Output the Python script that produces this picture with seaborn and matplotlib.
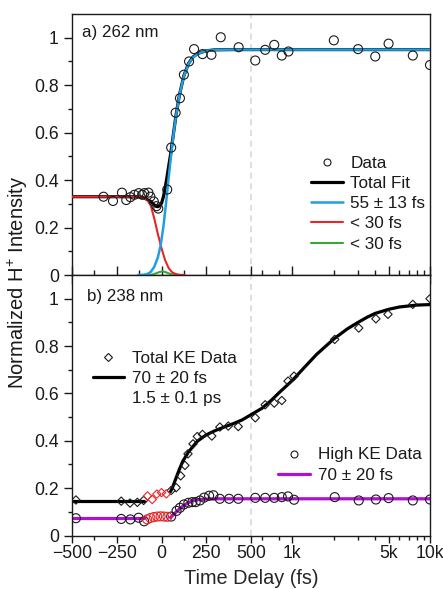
import numpy as np
import matplotlib
matplotlib.use("Agg")
import matplotlib.pyplot as plt
import seaborn as sns
from matplotlib.ticker import FixedLocator, FixedFormatter
from matplotlib.lines import Line2D

# ---------------- panel a) 262 nm ----------------
a_time = [-324, -271, -221, -197, -174, -152, -127, -108, -96, -73, -62, -43, -28, -18,
          32, 54, 79, 103, 125, 154, 182, 229, 279, 331, 431,
          537, 634, 738, 837, 936, 2000, 3000, 4000, 5000, 7500, 10000]
a_signal = [0.330, 0.312, 0.347, 0.316, 0.328, 0.338, 0.345, 0.338, 0.345, 0.347, 0.330, 0.310, 0.290, 0.280,
            0.360, 0.537, 0.684, 0.745, 0.844, 0.900, 0.952, 0.931, 0.928, 1.002, 0.960,
            0.904, 0.949, 0.970, 0.925, 0.942, 0.989, 0.952, 0.921, 0.975, 0.925, 0.885]

a_total_t = [-500, -150, -120, -100, -80, -60, -50, -40, -30, -20, -10, 0, 10, 20, 30, 40, 50, 60,
             70, 80, 100, 125, 150, 175, 200, 250, 300, 400, 500, 10000]
a_total = [0.330, 0.330, 0.329, 0.326, 0.318, 0.310, 0.303, 0.295, 0.289, 0.288, 0.292, 0.302, 0.328,
           0.365, 0.410, 0.458, 0.505, 0.558, 0.613, 0.668, 0.758, 0.840, 0.890, 0.918, 0.933, 0.945,
           0.949, 0.950, 0.950, 0.950]

a_rise_t = [-130, -100, -80, -60, -40, -20, -5, 10, 25, 40, 50, 60, 70, 80, 100, 125, 150, 175,
            200, 250, 300, 400, 10000]
a_rise = [0.0, 0.001, 0.004, 0.013, 0.035, 0.075, 0.125, 0.200, 0.300, 0.410, 0.480, 0.550, 0.610,
          0.665, 0.757, 0.838, 0.888, 0.916, 0.932, 0.945, 0.949, 0.950, 0.950]

a_decay_t = [-500, -150, -120, -100, -80, -60, -40, -20, 0, 20, 40, 60, 80, 100, 130]
a_decay = [0.330, 0.330, 0.329, 0.326, 0.316, 0.293, 0.237, 0.172, 0.113, 0.063, 0.029, 0.011,
           0.004, 0.001, 0.0]

a_coh_t = [-70, -50, -30, -10, 5, 20, 40, 60, 80]
a_coh = [0.0, 0.002, 0.007, 0.013, 0.015, 0.013, 0.007, 0.002, 0.0]

# ---------------- panel b) 238 nm ----------------
b_total_t = [-478, -225, -176, -135, -100, 54, 82, 107, 131, 148, 176, 200, 229, 281, 326, 373, 429,
             537, 634, 738, 837, 929, 1028, 2030, 3035, 4045, 4950, 7500, 10000]
b_total = [0.150, 0.145, 0.137, 0.140, 0.148, 0.190, 0.202, 0.252, 0.296, 0.345, 0.387, 0.418, 0.427,
           0.420, 0.458, 0.462, 0.460, 0.497, 0.552, 0.559, 0.570, 0.652, 0.673, 0.828, 0.876, 0.915,
           0.934, 0.976, 1.000]
b_total_excl_t = [-78, -52, -26, 0, 27]
b_total_excl = [0.167, 0.152, 0.175, 0.181, 0.176]

b_high_t = [-478, -225, -174, -128, -97, 54, 84, 103, 125, 150, 172, 191, 215, 238, 266, 290, 326,
            378, 429, 537, 634, 738, 837, 929, 1028, 2030, 3035, 4045, 5000, 7500, 10000]
b_high = [0.073, 0.070, 0.068, 0.075, 0.060, 0.080, 0.104, 0.117, 0.131, 0.138, 0.141, 0.141, 0.148,
          0.160, 0.168, 0.170, 0.155, 0.155, 0.155, 0.159, 0.159, 0.159, 0.162, 0.165, 0.151, 0.162,
          0.148, 0.152, 0.158, 0.148, 0.152]
b_high_excl_t = [-80, -62, -43, -24, -5, 14, 33]
b_high_excl = [0.068, 0.074, 0.078, 0.080, 0.081, 0.080, 0.079]

b_total_pre_t = [-500, -100]
b_total_pre = [0.145, 0.145]
b_total_fit_t = [50, 60, 80, 100, 120, 150, 200, 250, 300, 350, 400, 450, 500, 600, 700, 800, 1000,
                 1200, 1500, 2000, 2500, 3000, 3500, 4000, 5000, 6000, 8000, 10000]
b_total_fit = [0.185, 0.200, 0.240, 0.280, 0.315, 0.352, 0.398, 0.425, 0.443, 0.458, 0.472, 0.488,
               0.510, 0.537, 0.570, 0.603, 0.655, 0.705, 0.765, 0.830, 0.872, 0.900, 0.922, 0.938,
               0.955, 0.965, 0.973, 0.975]

b_high_pre_t = [-500, -100]
b_high_pre = [0.072, 0.072]
b_high_fit_t = [50, 60, 80, 100, 125, 150, 175, 200, 250, 300, 10000]
b_high_fit = [0.076, 0.083, 0.098, 0.112, 0.127, 0.139, 0.147, 0.151, 0.154, 0.155, 0.155]

# ---------------- axis ticks ----------------
x_major = [-500, -250, 0, 250, 500, 1000, 5000, 10000]
x_major_labels = ["\u2212500", "\u2212250", "0", "250", "500", "1k", "5k", "10k"]
x_minor = [-375, -125, 125, 375, 600, 800, 2000, 3000, 4000, 6000, 7000, 8000, 9000]
y_major = [0, 0.2, 0.4, 0.6, 0.8, 1.0]
y_major_labels = ["0", "0.2", "0.4", "0.6", "0.8", "1"]
y_minor = [0.1, 0.3, 0.5, 0.7, 0.9]

BLUE = "#1f9fe0"
RED = "#e8262a"
GREEN = "#37a836"
MAGENTA = "#b010d0"
INK = "#1a1a1a"

sns.set_style("ticks")
plt.rcParams["font.family"] = ["Liberation Sans", "DejaVu Sans"]
plt.rcParams["mathtext.fontset"] = "custom"
plt.rcParams["mathtext.rm"] = "Liberation Sans"
plt.rcParams["text.color"] = INK
plt.rcParams["axes.edgecolor"] = INK
plt.rcParams["xtick.color"] = INK
plt.rcParams["ytick.color"] = INK


# linear up to 500 fs, logarithmic from 500 fs to 10 ps, each half of the axis
def fwd(x):
    x = np.asarray(x, dtype=float)
    lg = 500.0 + 1000.0 * np.log10(np.maximum(x, 500.0) / 500.0) / np.log10(20.0)
    return np.where(x <= 500.0, x, lg)


def inv(u):
    u = np.asarray(u, dtype=float)
    ex = 500.0 * 20.0 ** ((np.maximum(u, 500.0) - 500.0) / 1000.0)
    return np.where(u <= 500.0, u, ex)


W, H = 443, 589
fig = plt.figure(figsize=(W / 100, H / 100), dpi=100)
L, R = 72, 430
ax1 = fig.add_axes([L / W, 1 - 275 / H, (R - L) / W, (275 - 14) / H])
ax2 = fig.add_axes([L / W, 1 - 535.5 / H, (R - L) / W, (535.5 - 275) / H])

TICK_FS = 12.7
LEG_FS = 12.3

for ax in (ax1, ax2):
    ax.set_xscale("function", functions=(fwd, inv))
    ax.set_xlim(-500, 10000)
    ax.set_ylim(0, 1.1)
    ax.xaxis.set_major_locator(FixedLocator(x_major))
    ax.xaxis.set_minor_locator(FixedLocator(x_minor))
    ax.xaxis.set_major_formatter(FixedFormatter(x_major_labels))
    ax.yaxis.set_major_locator(FixedLocator(y_major))
    ax.yaxis.set_major_formatter(FixedFormatter(y_major_labels))
    ax.yaxis.set_minor_locator(FixedLocator(y_minor))
    for s in ax.spines.values():
        s.set_linewidth(1.0)
        s.set_visible(True)
    ax.tick_params(axis="y", which="major", direction="out", length=5.5, width=1.0,
                   labelsize=TICK_FS, pad=4, left=True, right=False)
    ax.tick_params(axis="y", which="minor", direction="out", length=3, width=1.0,
                   left=True, right=False)
    ax.axvline(500, color="#d4d4d4", lw=1.1, ls=(0, (4, 3)), zorder=0)

ax1.tick_params(axis="x", which="major", direction="inout", length=13, width=1.0,
                labelbottom=False, top=False)
ax1.tick_params(axis="x", which="minor", direction="inout", length=6.5, width=1.0, top=False)
ax2.tick_params(axis="x", which="major", direction="out", length=5, width=1.0,
                labelsize=TICK_FS, pad=2, top=False)
ax2.tick_params(axis="x", which="minor", direction="out", length=3, width=1.0, top=False)

# ---- panel a) ----
line_kw = dict(sort=False, estimator=None, legend=False)
sns.lineplot(x=a_total_t, y=a_total, ax=ax1, color="black", linewidth=2.3, zorder=2, **line_kw)
sns.lineplot(x=a_coh_t, y=a_coh, ax=ax1, color=GREEN, linewidth=1.5, zorder=3, **line_kw)
sns.lineplot(x=a_decay_t, y=a_decay, ax=ax1, color=RED, linewidth=1.5, zorder=3, **line_kw)
sns.lineplot(x=a_rise_t, y=a_rise, ax=ax1, color=BLUE, linewidth=1.8, zorder=4, **line_kw)
sns.scatterplot(x=a_time, y=a_signal, ax=ax1, marker="o", s=42, facecolors="none",
                edgecolors=INK, linewidth=0.8, zorder=5, legend=False)

ax1.text((82 - L) / (R - L), (275 - 33) / 261, "a) 262 nm", transform=ax1.transAxes,
         fontsize=12.2, ha="left", va="center")

hdl_a = [Line2D([], [], ls="none", marker="o", mfc="none", mec=INK, ms=5, mew=0.8),
         Line2D([], [], color="black", lw=2.3),
         Line2D([], [], color=BLUE, lw=1.8),
         Line2D([], [], color=RED, lw=1.5),
         Line2D([], [], color=GREEN, lw=1.5)]
lab_a = ["Data", "Total Fit", "55 \u00b1 13 fs", "< 30 fs", "< 30 fs"]
ax1.legend(hdl_a, lab_a, loc="upper left", bbox_to_anchor=(311 / W, 1 - 156 / H),
           bbox_transform=fig.transFigure, frameon=False, borderpad=0, borderaxespad=0,
           handlelength=1.85, handletextpad=0.45, labelspacing=0.3, fontsize=LEG_FS)

# ---- panel b) ----
sns.lineplot(x=b_total_pre_t, y=b_total_pre, ax=ax2, color="black", linewidth=2.3, zorder=2, **line_kw)
sns.lineplot(x=b_total_fit_t, y=b_total_fit, ax=ax2, color="black", linewidth=2.3, zorder=2, **line_kw)
sns.lineplot(x=b_high_pre_t, y=b_high_pre, ax=ax2, color=MAGENTA, linewidth=2.3, zorder=2, **line_kw)
sns.lineplot(x=b_high_fit_t, y=b_high_fit, ax=ax2, color=MAGENTA, linewidth=2.3, zorder=2, **line_kw)

sns.scatterplot(x=b_total_t, y=b_total, ax=ax2, marker="D", s=18, facecolors="none",
                edgecolors=INK, linewidth=0.8, zorder=5, legend=False)
sns.scatterplot(x=b_total_excl_t, y=b_total_excl, ax=ax2, marker="D", s=18, facecolors="none",
                edgecolors=RED, linewidth=0.8, zorder=5, legend=False)
sns.scatterplot(x=b_high_t, y=b_high, ax=ax2, marker="o", s=42, facecolors="none",
                edgecolors=INK, linewidth=0.8, zorder=5, legend=False)
sns.scatterplot(x=b_high_excl_t, y=b_high_excl, ax=ax2, marker="o", s=42, facecolors="none",
                edgecolors=RED, linewidth=0.8, zorder=5, legend=False)

ax2.text((87 - L) / (R - L), (535.5 - 297) / 260.5, "b) 238 nm", transform=ax2.transAxes,
         fontsize=12.2, ha="left", va="center")

hdl_b1 = [Line2D([], [], ls="none", marker="D", mfc="none", mec=INK, ms=4, mew=0.8),
          Line2D([], [], color="black", lw=2.3),
          Line2D([], [], ls="none")]
lab_b1 = ["Total KE Data", "70 \u00b1 20 fs", "1.5 \u00b1 0.1 ps"]
leg_b1 = ax2.legend(hdl_b1, lab_b1, loc="upper left", bbox_to_anchor=(93 / W, 1 - 351 / H),
                    bbox_transform=fig.transFigure, frameon=False, borderpad=0, borderaxespad=0,
                    handlelength=1.8, handletextpad=0.5, labelspacing=0.3, fontsize=LEG_FS)
ax2.add_artist(leg_b1)

hdl_b2 = [Line2D([], [], ls="none", marker="o", mfc="none", mec=INK, ms=5, mew=0.8),
          Line2D([], [], color=MAGENTA, lw=2.3)]
lab_b2 = ["High KE Data", "70 \u00b1 20 fs"]
ax2.legend(hdl_b2, lab_b2, loc="upper left", bbox_to_anchor=(278 / W, 1 - 447.5 / H),
           bbox_transform=fig.transFigure, frameon=False, borderpad=0, borderaxespad=0,
           handlelength=1.9, handletextpad=0.45, labelspacing=0.3, fontsize=LEG_FS)

ax2.set_xlabel("Time Delay (fs)", fontsize=14.3, labelpad=5)
ax1.set_xlabel("")
ax1.set_ylabel("")
ax2.set_ylabel("")
fig.text(18 / W, 1 - 282 / H, r"Normalized H$^{+}$ Intensity", rotation=90,
         ha="center", va="center", fontsize=14.5)

fig.savefig("out.png", dpi=100)
